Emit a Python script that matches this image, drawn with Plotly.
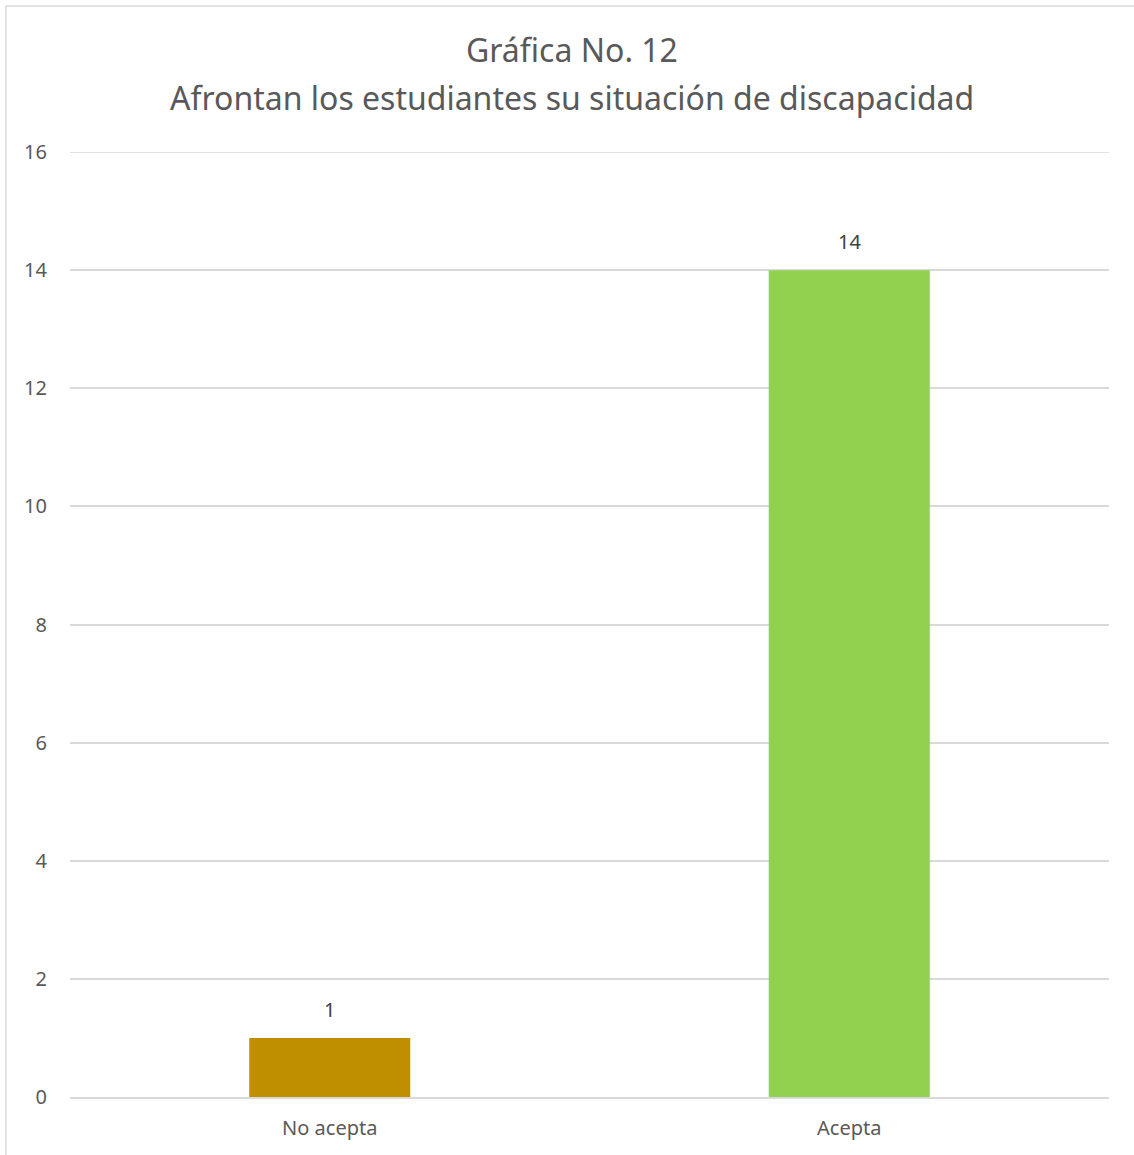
import plotly.graph_objects as go

categories = ["No acepta", "Acepta"]
values = [1, 14]
colors = ["#BF8F00", "#92D050"]
title_line1 = "Gráfica No. 12"
title_line2 = "Afrontan los estudiantes su situación de discapacidad"
y_ticks = [0, 2, 4, 6, 8, 10, 12, 14, 16]

W, H = 1134, 1155
L, R, T, B = 70, 25, 152, 58
pw, ph = W - L - R, H - T - B

def px_x(x):
    return (x - L) / pw

def px_y(y):
    return (H - B - y) / ph

font_family = "Noto Sans, Open Sans, sans-serif"
text_color = "#595959"

fig = go.Figure()
fig.add_trace(go.Bar(
    x=categories, y=values, marker=dict(color=colors, line=dict(width=0)),
    width=0.31, hoverinfo="x+y",
))

annotations = []
for c, v in zip(categories, values):
    annotations.append(dict(x=c, y=v, xref="x", yref="y", text=str(v), showarrow=False,
                            yanchor="bottom", yshift=13,
                            font=dict(size=20, color="#404040", family=font_family)))
annotations.append(dict(x=px_x(572), y=px_y(50), xref="paper", yref="paper", text=title_line1,
                        showarrow=False, xanchor="center", yanchor="middle",
                        font=dict(size=32, color=text_color, family=font_family)))
annotations.append(dict(x=px_x(572), y=px_y(98), xref="paper", yref="paper", text=title_line2,
                        showarrow=False, xanchor="center", yanchor="middle",
                        font=dict(size=32, color=text_color, family=font_family)))

shapes = [
    dict(type="rect", xref="paper", yref="paper",
         x0=px_x(6), x1=px_x(W + 20), y0=px_y(H + 20), y1=px_y(6),
         line=dict(color="#D9D9D9", width=1.5), fillcolor="rgba(0,0,0,0)", layer="below"),
    dict(type="line", xref="paper", yref="y", x0=0, x1=1, y0=y_ticks[-1], y1=y_ticks[-1],
         line=dict(color="#D9D9D9", width=1.5), layer="below"),
]

fig.update_layout(
    width=W, height=H,
    margin=dict(l=L, r=R, t=T, b=B, pad=0),
    paper_bgcolor="white", plot_bgcolor="white",
    showlegend=False,
    annotations=annotations,
    shapes=shapes,
    font=dict(family=font_family, color=text_color, size=20),
)
fig.update_yaxes(range=[0, 16], tickvals=y_ticks, showgrid=True, gridcolor="#D9D9D9", gridwidth=1.5,
                 zeroline=False, showline=False, ticks="", ticklabelstandoff=22,
                 tickfont=dict(size=20, color=text_color))
fig.update_xaxes(showline=True, linecolor="#D9D9D9", linewidth=2, ticks="", ticklabelstandoff=12,
                 tickfont=dict(size=20, color=text_color), showgrid=False)

fig.write_html("out.html", config={"displayModeBar": False},
               post_script="document.body.style.margin='0';document.body.style.overflow='hidden';")
